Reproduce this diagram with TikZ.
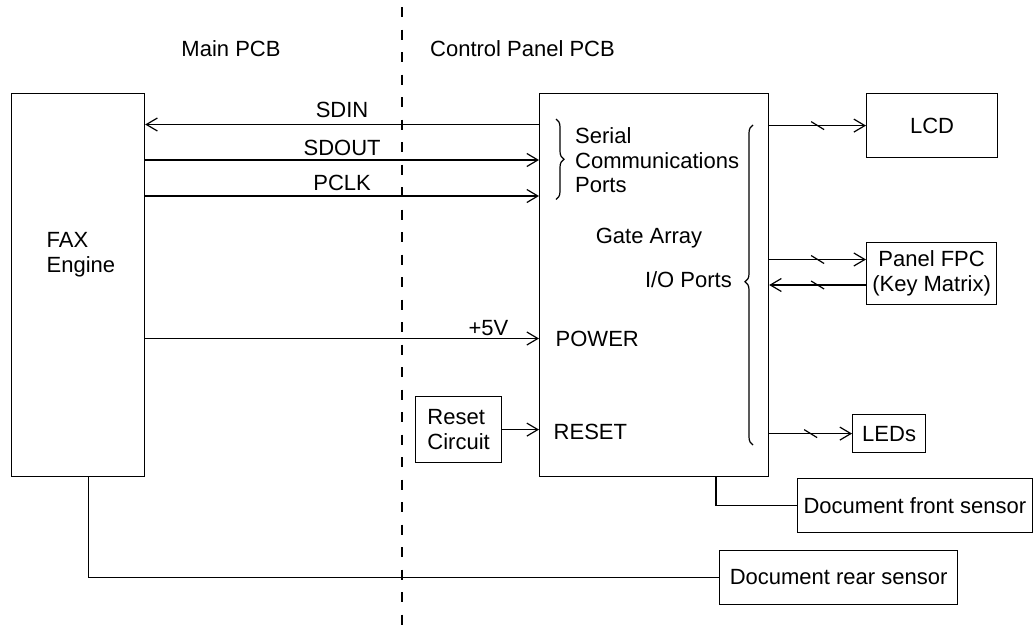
\documentclass[tikz,border=0pt]{standalone}
\usepackage{fontspec}
\setmainfont{Liberation Sans}
\usetikzlibrary{arrows.meta,decorations.pathreplacing}
\tikzset{
  box/.style={draw, line width=1.2pt, inner sep=0pt, anchor=north west, align=center},
  conn/.style={line width=1.2pt},
  arr/.style={conn, -{Straight Barb[length=11pt,width=13pt,line width=1.2pt]}},
  lbl/.style={inner sep=0pt, anchor=base},
  slashmark/.style={line width=1.2pt},
  bracemark/.style={line width=1.2pt, decorate},
  divider/.style={line width=1.2pt, dash pattern=on 10pt off 12.5pt}
}
\begin{document}
\begin{tikzpicture}[x=1pt,y=-1pt,font=\fontsize{22}{24.5}\selectfont]
\useasboundingbox (0,0) rectangle (1033,627);
% divider
\draw[divider] (402,7) -- (402,627);
\node[lbl] (mainpcb) at (231,56) {Main PCB};
\node[lbl, anchor=base west] (cppcb) at (430,56) {Control Panel PCB};
% boxes
\node[box, minimum width=133pt, minimum height=383pt] (fax) at (11,92.5) {};
\node[lbl, anchor=base west, align=left] (faxtxt) at (46.5,272) {FAX\\Engine};
\node[box, minimum width=229pt, minimum height=382.5pt] (gate) at (539,93) {};
\node[box, minimum width=131pt, minimum height=64pt] (lcd) at (866,93) {LCD};
\node[box, minimum width=130pt, minimum height=61.5pt] (fpc) at (866,242) {Panel FPC\\(Key Matrix)};
\node[box, minimum width=73pt, minimum height=38pt] (leds) at (852,414) {LEDs};
\node[box, minimum width=86pt, minimum height=66pt, align=left] (reset) at (415,396) {Reset\\Circuit};
\node[box, minimum width=234.5pt, minimum height=54pt] (front) at (797,478) {Document front sensor};
\node[box, minimum width=238pt, minimum height=54pt] (rear) at (719,549.5) {Document rear sensor};
% texts inside gate array
\node[lbl, anchor=base west, align=left] (serial) at (575,192.5) {Serial\\Communications\\Ports};
\node[lbl] (gatetxt) at (649,243) {Gate Array};
\node[lbl, anchor=base east] (iotxt) at (732,287) {I/O Ports};
\node[lbl, anchor=base west] (powertxt) at (555.5,346) {POWER};
\node[lbl, anchor=base west] (resettxt) at (553.5,439) {RESET};
% serial lines
\draw[arr] (gate.west |- 0,124.5) -- node[lbl, above=7pt, anchor=base] (sdin) {SDIN} (fax.east |- 0,124.5);
\draw[arr] (fax.east |- 0,160) -- node[lbl, above=5pt, anchor=base] (sdout) {SDOUT} (gate.west |- 0,160);
\draw[arr] (fax.east |- 0,196) -- node[lbl, above=6pt, anchor=base] (pclk) {PCLK} (gate.west |- 0,196);
% power
\draw[arr] (fax.east |- 0,338.5) -- (gate.west |- 0,338.5);
\node[lbl, anchor=base east] (v5) at (508.5,335) {+5V};
% reset
\draw[arr] (reset.east) -- (gate.west |- reset.east);
% I/O outputs
\draw[arr] (gate.east |- lcd.west) -- coordinate[pos=0.5] (s1) (lcd.west);
\draw[arr] (gate.east |- 0,259.5) -- coordinate[pos=0.5] (s2) (fpc.west |- 0,259.5);
\draw[arr] (fpc.west |- 0,285) -- coordinate[pos=0.5] (s3) (gate.east |- 0,285);
\draw[arr] (gate.east |- leds.west) -- coordinate[pos=0.5] (s4) (leds.west);
\foreach \s in {s1,s2,s3,s4}
  \draw[slashmark] ([shift={(-6.5,-4)}]\s) -- ([shift={(6.5,4)}]\s);
% sensors
\draw[conn] (gate.south -| 716,0) |- (front.west);
\draw[conn] (fax.south -| 88.5,0) |- (rear.west);
% braces
\draw[bracemark, decoration={brace, amplitude=8pt}] (556,119) -- (556,199.5);
\draw[bracemark, decoration={brace, amplitude=8pt, aspect=0.51}] (753,445) -- (753,125);
\end{tikzpicture}
\end{document}
